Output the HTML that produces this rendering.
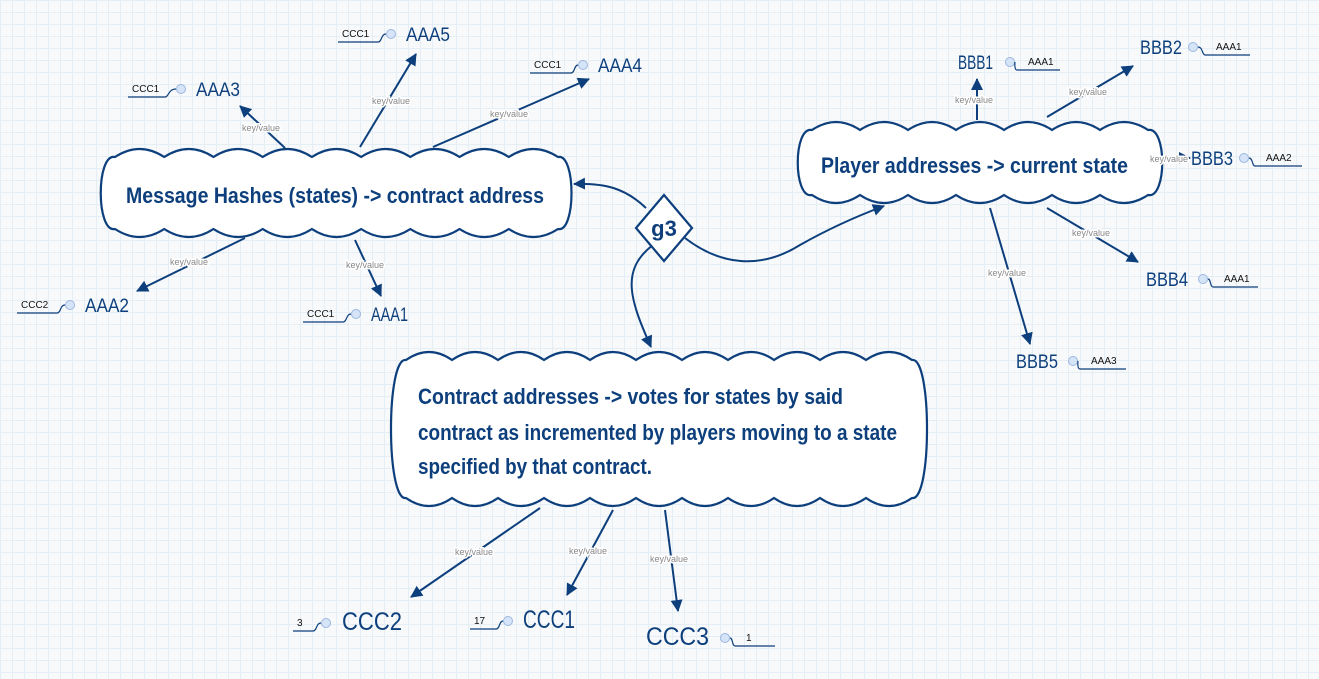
<!DOCTYPE html>
<html><head><meta charset="utf-8"><style>
html,body{margin:0;padding:0;}
body{width:1319px;height:679px;overflow:hidden;background-color:#f7f9fb;
background-image:linear-gradient(#e6eef5 1px,transparent 1px),linear-gradient(90deg,#e6eef5 1px,transparent 1px);
background-size:12px 12px;}
svg{position:absolute;left:0;top:0;}
.t{font-family:"Liberation Sans Narrow","Liberation Sans",sans-serif;fill:#0d3f7c;}
.kv{font-family:"Liberation Sans",sans-serif;font-size:9px;fill:#888;paint-order:stroke;stroke:#fff;stroke-width:3px;}
.n{font-family:"Liberation Sans",sans-serif;font-size:10px;fill:#111;}
</style></head><body>
<svg id="s" width="1319" height="679" xmlns="http://www.w3.org/2000/svg">
<defs><marker id="a" markerWidth="13" markerHeight="13" refX="11" refY="6" orient="auto" markerUnits="userSpaceOnUse">
<path d="M0,0 L12,6 L0,12 z" fill="#0d3f7c"/></marker></defs>
<g id="clouds" fill="#fff" stroke="#0d3f7c" stroke-width="2.2"></g>
<g fill="none" stroke="#0d3f7c" stroke-width="2" marker-end="url(#a)">
<line x1="285" y1="148" x2="240" y2="106"/>
<line x1="360" y1="147" x2="416" y2="54"/>
<line x1="433" y1="147" x2="589" y2="79"/>
<line x1="245" y1="238" x2="137" y2="291"/>
<line x1="355" y1="240" x2="381" y2="296"/>
<path d="M646,208 C625,188 605,183 574,184"/>
<path d="M685,238 C720,265 760,270 800,245 C830,228 860,215 884,206"/>
<path d="M653,245 C620,270 630,300 651,347"/>
<line x1="977" y1="120" x2="977" y2="79"/>
<line x1="1047" y1="117" x2="1133" y2="66"/>
<line x1="1163" y1="158" x2="1190" y2="158"/>
<line x1="1047" y1="208" x2="1138" y2="262"/>
<line x1="990" y1="208" x2="1030" y2="344"/>
<line x1="540" y1="508" x2="411" y2="597"/>
<line x1="613" y1="510" x2="567" y2="595"/>
<line x1="665" y1="510" x2="678" y2="611"/>
</g>
<polygon points="664,195 692,228 664,261 636,228" fill="#fff" stroke="#0d3f7c" stroke-width="2.2"/>
<text class="t" x="664" y="236" font-size="22" font-weight="bold" text-anchor="middle">g3</text>
<g class="kv">
<text x="242" y="131">key/value</text><text x="372" y="104">key/value</text><text x="490" y="117">key/value</text>
<text x="170" y="265">key/value</text><text x="346" y="268">key/value</text>
<text x="955" y="103">key/value</text><text x="1069" y="95">key/value</text><text x="1150" y="162">key/value</text>
<text x="1072" y="236">key/value</text><text x="988" y="276">key/value</text>
<text x="455" y="555">key/value</text><text x="569" y="554">key/value</text><text x="650" y="562">key/value</text>
</g>
<g class="t" font-size="22" font-weight="bold">
<text x="126" y="203" textLength="418" lengthAdjust="spacingAndGlyphs">Message Hashes (states) -&gt; contract address</text>
<text x="821" y="173" textLength="307" lengthAdjust="spacingAndGlyphs">Player addresses -&gt; current state</text>
<text x="418" y="404" textLength="425" lengthAdjust="spacingAndGlyphs">Contract addresses -&gt; votes for states by  said</text>
<text x="418" y="440" textLength="479" lengthAdjust="spacingAndGlyphs">contract as incremented by players moving to a state</text>
<text x="418" y="474" textLength="234" lengthAdjust="spacingAndGlyphs">specified by that contract.</text>
</g>
<g id="nodes"></g>
</svg>
<script>
var NS="http://www.w3.org/2000/svg";
function cloud(x0,x1,yt,yb,xa,xb,n,bh){
 var w=(xb-xa)/n,d="M"+xa+","+yt;
 for(var i=0;i<n;i++){var m=xa+w*i+w/2;d+=" Q"+m+","+(yt-2*bh)+" "+(xa+w*(i+1))+","+yt;}
 d+=" C"+(x1+4)+","+(yt-4)+" "+(x1+4)+","+(yb+4)+" "+xb+","+yb;
 for(var i=n;i>0;i--){var m=xa+w*i-w/2;d+=" Q"+m+","+(yb+2*bh)+" "+(xa+w*(i-1))+","+yb;}
 d+=" C"+(x0-4)+","+(yb+4)+" "+(x0-4)+","+(yt-4)+" "+xa+","+yt+" Z";
 var p=document.createElementNS(NS,"path");p.setAttribute("d",d);document.getElementById("clouds").appendChild(p);
}
cloud(100,572,157,229,115,558,9,8);
cloud(797,1163,130,195,812,1148,7,8);
cloud(390,928,360,498,406,912,11,8);
var g=document.getElementById("nodes");
function el(t,a,txt){var e=document.createElementNS(NS,t);for(var k in a)e.setAttribute(k,a[k]);if(txt)e.textContent=txt;g.appendChild(e);return e;}
function L(title,tx,ty,note,l0,l1,cx,fs,tw){
 el("text",{"class":"t",x:tx,y:ty+7,"font-size":fs||19,textLength:tw||44,lengthAdjust:"spacingAndGlyphs"},title);
 el("text",{"class":"n",x:l0+4,y:ty+3},note);
 el("path",{d:"M"+l0+","+(ty+8)+" L"+l1+","+(ty+8)+" C"+(l1+4)+","+(ty+8)+" "+(l1+3)+","+ty+" "+(cx-5)+","+ty,fill:"none",stroke:"#0d3f7c","stroke-width":1.2});
 el("circle",{cx:cx,cy:ty,r:4.5,fill:"#d6e4f7",stroke:"#9db7e0","stroke-width":1});
}
function R(title,tx,ty,note,cx,l0,l1,fs,tw){
 el("text",{"class":"t",x:tx,y:ty+7,"font-size":fs||19,textLength:tw||42,lengthAdjust:"spacingAndGlyphs"},title);
 el("circle",{cx:cx,cy:ty,r:4.5,fill:"#d6e4f7",stroke:"#9db7e0","stroke-width":1});
 el("path",{d:"M"+(cx+5)+","+ty+" C"+(l0-2)+","+ty+" "+(l0-3)+","+(ty+8)+" "+l0+","+(ty+8)+" L"+l1+","+(ty+8),fill:"none",stroke:"#0d3f7c","stroke-width":1.2});
 el("text",{"class":"n",x:l0+11,y:ty+3},note);
}
L("AAA5",406,34,"CCC1",338,378,391);
L("AAA3",196,89,"CCC1",128,165,181);
L("AAA4",598,65,"CCC1",530,571,583);
L("AAA2",85,305,"CCC2",17,57,70);
L("AAA1",371,314,"CCC1",303,343,356,19,37);
R("BBB1",958,62,"AAA1",1010,1017,1060,19,35);
R("BBB2",1140,47,"AAA1",1193,1205,1250);
R("BBB3",1191,158,"AAA2",1244,1255,1302);
R("BBB4",1146,279,"AAA1",1203,1213,1258);
R("BBB5",1016,361,"AAA3",1073,1080,1126);
L("CCC2",342,623,"3",293,313,326,25,60);
L("CCC1",523,621,"17",470,496,508,25,52);
R("CCC3",646,638,"1",725,735,775,25,63);
</script>
</body></html>
